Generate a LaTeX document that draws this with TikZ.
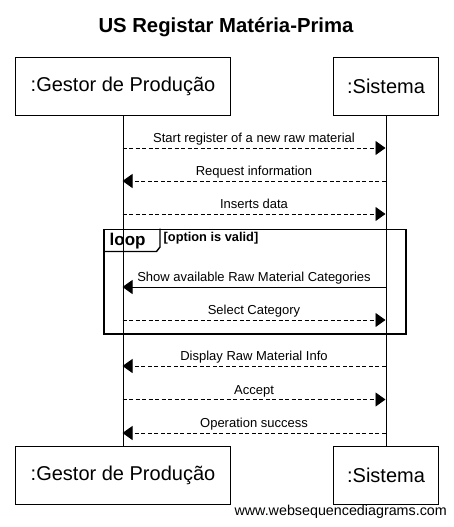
\documentclass[tikz,border=0pt]{standalone}
\usepackage{fontspec}
\setmainfont{Liberation Sans}
\usetikzlibrary{arrows.meta}
\begin{document}
\begin{tikzpicture}[x=1pt,y=-1pt,
  actor/.style={draw, line width=1pt, minimum height=58pt, inner sep=0pt,
    anchor=north west, font=\fontsize{20}{24}\selectfont},
  lifeline/.style={line width=1pt},
  msgline/.style={line width=0.9pt, -{Triangle[length=10pt,width=14pt]}},
  reply/.style={msgline, dash pattern=on 4pt off 2.5pt},
  lbl/.style={midway, anchor=base, yshift=5.5pt, inner sep=0pt,
    font=\fontsize{13}{15}\selectfont},
  frame/.style={draw, line width=1.8pt, inner sep=0pt, anchor=north west}]
\useasboundingbox (0,0) rectangle (454,527);
\fill[white] (0,0) rectangle (454,527);

\node[anchor=base, font=\bfseries\fontsize{20.3}{23}\selectfont] (title) at (226,33) {US Registar Matéria-Prima};

\node[actor, minimum width=215pt] (g1) at (15,57) {:Gestor de Produção};
\node[actor, minimum width=105pt] (s1) at (333,57) {:Sistema};
\node[actor, minimum width=215pt] (g2) at (15,446) {:Gestor de Produção};
\node[actor, minimum width=105pt] (s2) at (333,446) {:Sistema};

\draw[lifeline] (g1.south) -- (g2.north);
\draw[lifeline] (s1.south) -- (s2.north);

% lifeline points
\foreach \n/\y in {1/148,2/181,3/214,4/287,5/320,6/366,7/399.5,8/433}{
  \coordinate (G\n) at (122.5,\y);
  \coordinate (S\n) at (385.5,\y);
}

\draw[reply] (G1) -- node[lbl]{Start register of a new raw material} (S1);
\draw[reply] (S2) -- node[lbl]{Request information} (G2);
\draw[reply] (G3) -- node[lbl]{Inserts data} (S3);

% loop frame
\node[frame, minimum width=302pt, minimum height=104.5pt] (loop) at (103,228.5) {};
\draw[line width=1.4pt] (103,251.5) -- (156.5,251.5) -- (160,247) -- (160,228.5);
\node[anchor=base west, inner sep=0pt, font=\bfseries\fontsize{17}{19}\selectfont] (looplbl) at (109.5,245.5) {loop};
\node[anchor=base west, inner sep=0pt, font=\bfseries\fontsize{12.8}{14}\selectfont] (guard) at (163.5,241.5) {[option is valid]};

\draw[msgline] (S4) -- node[lbl]{Show available Raw Material Categories} (G4);
\draw[reply] (G5) -- node[lbl]{Select Category} (S5);

\draw[reply] (S6) -- node[lbl]{Display Raw Material Info} (G6);
\draw[reply] (G7) -- node[lbl]{Accept} (S7);
\draw[reply] (S8) -- node[lbl]{Operation success} (G8);

\node[anchor=base east, inner sep=0pt, font=\fontsize{14.3}{16}\selectfont] (wm) at (447,515) {www.websequencediagrams.com};
\end{tikzpicture}
\end{document}
